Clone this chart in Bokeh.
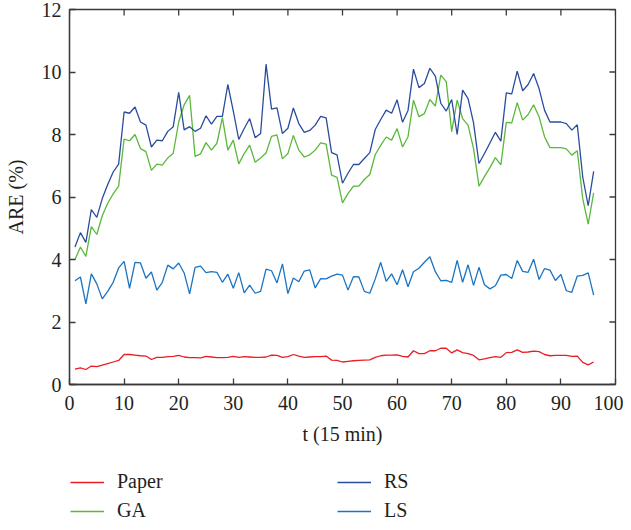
from bokeh.plotting import figure
from bokeh.models import Legend, LegendItem, FixedTicker, Range1d
from bokeh.layouts import column
from bokeh.embed import file_html
from bokeh.resources import INLINE

t = list(range(1, 97))

paper = [0.49, 0.53, 0.48, 0.59, 0.57, 0.62, 0.67, 0.72, 0.77, 0.96,
         0.96, 0.94, 0.92, 0.91, 0.80, 0.87, 0.87, 0.89, 0.90, 0.93,
         0.88, 0.86, 0.86, 0.85, 0.90, 0.88, 0.86, 0.86, 0.87, 0.90,
         0.87, 0.89, 0.88, 0.87, 0.87, 0.88, 0.94, 0.93, 0.87, 0.89,
         0.96, 0.91, 0.87, 0.88, 0.89, 0.89, 0.91, 0.78, 0.77, 0.72,
         0.74, 0.76, 0.77, 0.78, 0.79, 0.87, 0.92, 0.94, 0.94, 0.95,
         0.90, 0.88, 1.08, 0.99, 0.99, 1.08, 1.08, 1.16, 1.16, 1.01,
         1.11, 1.02, 0.99, 0.93, 0.79, 0.82, 0.86, 0.89, 0.87, 1.02,
         1.03, 1.11, 1.03, 1.04, 1.07, 1.05, 0.96, 0.92, 0.93, 0.93,
         0.93, 0.90, 0.91, 0.71, 0.63, 0.72]

ga = [4.00, 4.40, 4.10, 5.05, 4.80, 5.40, 5.80, 6.10, 6.35, 7.85,
      7.80, 8.00, 7.55, 7.45, 6.85, 7.05, 7.02, 7.25, 7.40, 8.40,
      8.95, 9.25, 7.30, 7.38, 7.74, 7.50, 7.72, 8.54, 7.50, 7.82,
      7.06, 7.39, 7.66, 7.11, 7.25, 7.41, 7.94, 7.99, 7.22, 7.39,
      7.97, 7.50, 7.28, 7.35, 7.50, 7.73, 7.69, 6.70, 6.63, 5.81,
      6.11, 6.35, 6.35, 6.56, 6.72, 7.36, 7.65, 7.92, 7.82, 8.19,
      7.60, 7.93, 9.10, 8.57, 8.67, 9.12, 8.91, 9.90, 9.69, 8.09,
      9.10, 8.51, 8.30, 7.55, 6.35, 6.65, 6.94, 7.26, 7.03, 8.39,
      8.37, 9.02, 8.46, 8.64, 8.95, 8.57, 7.93, 7.58, 7.58, 7.58,
      7.54, 7.34, 7.48, 5.95, 5.13, 6.13]

rs = [4.40, 4.86, 4.55, 5.60, 5.35, 5.95, 6.40, 6.80, 7.05, 8.72,
      8.68, 8.88, 8.40, 8.30, 7.60, 7.82, 7.80, 8.10, 8.25, 9.35,
      8.15, 8.25, 8.10, 8.20, 8.60, 8.33, 8.58, 8.58, 9.60, 8.75,
      7.84, 8.19, 8.51, 7.90, 8.03, 10.25, 8.81, 8.85, 8.03, 8.20,
      8.85, 8.35, 8.07, 8.13, 8.30, 8.58, 8.53, 7.42, 7.35, 6.44,
      6.76, 7.04, 7.04, 7.23, 7.42, 8.16, 8.48, 8.78, 8.68, 9.11,
      8.39, 8.77, 10.09, 9.50, 9.63, 10.12, 9.87, 9.00, 8.75, 9.12,
      8.00, 9.42, 9.15, 8.37, 7.07, 7.39, 7.73, 8.07, 7.79, 9.33,
      9.30, 10.03, 9.40, 9.60, 9.95, 9.47, 8.78, 8.40, 8.40, 8.40,
      8.35, 8.14, 8.31, 6.64, 5.72, 6.82]

ls = [3.32, 3.44, 2.58, 3.54, 3.22, 2.74, 2.98, 3.27, 3.73, 3.94,
      3.08, 3.91, 3.89, 3.40, 3.60, 3.02, 3.27, 3.82, 3.70, 3.89,
      3.57, 2.90, 3.75, 3.79, 3.58, 3.61, 3.59, 3.27, 3.53, 3.08,
      3.58, 2.93, 3.18, 2.92, 2.98, 3.69, 3.64, 3.25, 3.86, 2.91,
      3.41, 3.29, 3.63, 3.67, 3.09, 3.39, 3.38, 3.47, 3.53, 3.50,
      3.02, 3.45, 3.44, 2.98, 2.92, 3.38, 3.91, 3.30, 3.54, 3.19,
      3.67, 3.13, 3.61, 3.72, 3.91, 4.09, 3.61, 3.32, 3.33, 3.27,
      3.97, 3.27, 3.83, 3.17, 3.75, 3.19, 3.06, 3.16, 3.50, 3.52,
      3.39, 3.97, 3.62, 3.59, 4.01, 3.36, 3.71, 3.66, 3.33, 3.52,
      3.00, 2.95, 3.47, 3.49, 3.57, 2.86]

x_ticks = [0, 10, 20, 30, 40, 50, 60, 70, 80, 90, 100]
y_ticks = [0, 2, 4, 6, 8, 10, 12]

names = ["Paper", "GA", "RS", "LS"]
colors = ["#ec1c24", "#5bb83a", "#2a4c9f", "#1a74c2"]

FONT = "Liberation Serif"
TXT = "#231f20"
AX = "#3a3a3a"
X_MAX, Y_MAX = 100, 12
W = 623

p = figure(width=W, height=452, output_backend="svg", toolbar_location=None,
           x_range=Range1d(0, X_MAX), y_range=Range1d(0, Y_MAX),
           min_border_left=69, min_border_right=8, min_border_top=9,
           min_border_bottom=68, background_fill_color="white",
           border_fill_color="white")
p.grid.visible = False
p.outline_line_color = AX
p.outline_line_width = 1.3

for series, c in zip([paper, ga, rs, ls], colors):
    p.line(t, series, line_color=c, line_width=1.3)

# inward ticks on the top and right edges of the box
p.ray(x=x_ticks, y=[Y_MAX] * len(x_ticks), length=6, length_units="screen",
      angle=-90, angle_units="deg", line_color=AX, line_width=1.3)
p.ray(x=[X_MAX] * len(y_ticks), y=y_ticks, length=6, length_units="screen",
      angle=180, angle_units="deg", line_color=AX, line_width=1.3)

def style_axis(ax, ticks):
    ax.ticker = FixedTicker(ticks=ticks)
    ax.minor_tick_line_color = None
    ax.major_tick_in = 6
    ax.major_tick_out = 0
    ax.axis_line_color = AX
    ax.axis_line_width = 1.3
    ax.major_tick_line_color = AX
    ax.major_tick_line_width = 1.3
    ax.major_label_text_font = FONT
    ax.major_label_text_color = TXT
    ax.major_label_text_font_size = "20px"
    ax.axis_label_text_font = FONT
    ax.axis_label_text_font_style = "normal"
    ax.axis_label_text_font_size = "20px"
    ax.axis_label_text_color = TXT

xa = p.xaxis[0]
style_axis(xa, x_ticks)
xa.major_label_standoff = 11
xa.axis_label = "t (15 min)"
xa.axis_label_standoff = 10

ya = p.yaxis[0]
style_axis(ya, y_ticks)
ya.major_label_standoff = 8
ya.axis_label = "ARE (%)"
ya.axis_label_standoff = 12

# legend strip below the chart
lg = figure(width=W, height=70, output_backend="svg", toolbar_location=None,
            x_range=Range1d(0, 1), y_range=Range1d(0, 1),
            x_axis_location=None, y_axis_location=None,
            min_border=0, background_fill_color="white",
            border_fill_color="white")
lg.grid.visible = False
lg.outline_line_color = None
items = []
for name, c in zip(names, colors):
    # swatch-only renderer, kept outside the visible range
    r = lg.line([0, 1], [-1, -1], line_color=c, line_width=1.3)
    items.append(LegendItem(label=name, renderers=[r]))

legend = Legend(items=items, location=(1, 0), orientation="vertical", nrows=2)
legend.label_text_font = FONT
legend.label_text_font_size = "20px"
legend.label_text_color = TXT
legend.glyph_width = 34
legend.glyph_height = 20
legend.label_height = 20
legend.label_width = 214
legend.label_standoff = 13
legend.spacing = 6
legend.padding = 0
legend.margin = 0
legend.border_line_alpha = 0
legend.background_fill_alpha = 0
lg.add_layout(legend, "center")

layout = column(p, lg, spacing=0)
open("out.html", "w").write(file_html(layout, INLINE))
